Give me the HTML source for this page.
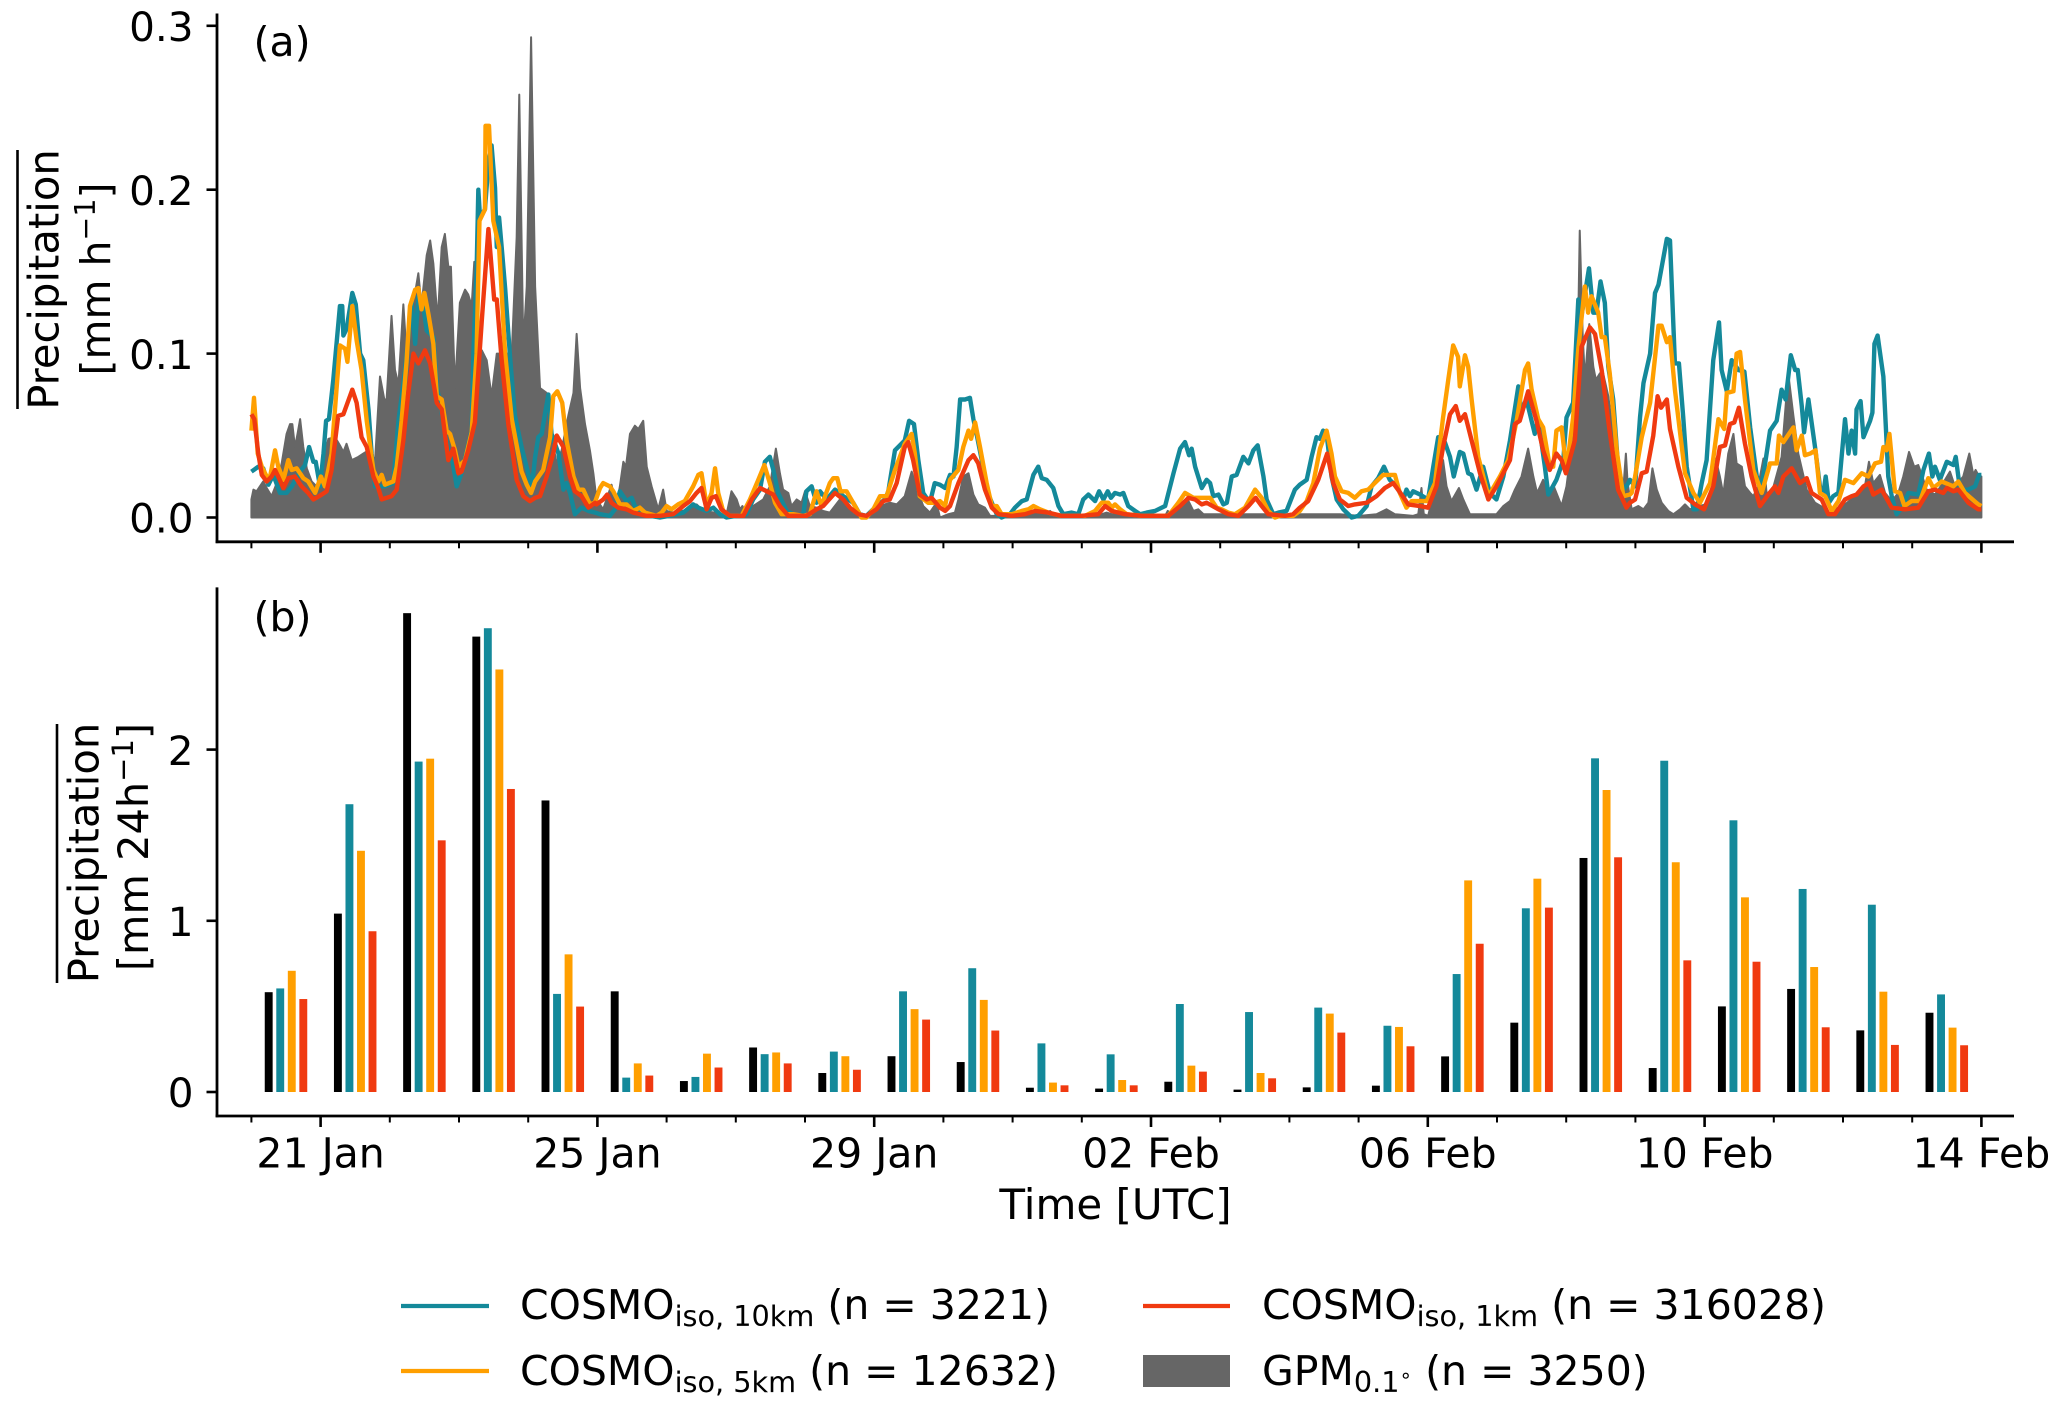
<!DOCTYPE html>
<html lang="en">
<head>
<meta charset="utf-8">
<title>Precipitation time series</title>
<style>
html,body{margin:0;padding:0;background:#fff;}
svg{display:block;}
text{font-family:"DejaVu Sans","Liberation Sans",sans-serif;fill:#000;}
</style>
</head>
<body>
<svg id="chart" xmlns="http://www.w3.org/2000/svg" width="2067" height="1406" viewBox="0 0 2067 1406">
  <g id="panelA"></g>
  <g id="panelB"></g>

  <text x="253.5" y="56" font-size="41">(a)</text>
  <text x="253.5" y="631" font-size="41">(b)</text>

  <g>
    <line x1="17.5" y1="150" x2="17.5" y2="409" stroke="#000" stroke-width="2.6"/>
    <text transform="translate(58.3,279.5) rotate(-90)" text-anchor="middle" font-size="41.7">Precipitation</text>
    <text transform="translate(110,279) rotate(-90)" text-anchor="middle" font-size="41">[mm h<tspan font-size="28.5" dy="-15">−1</tspan><tspan dy="15">]</tspan></text>
  </g>
  <g>
    <line x1="57" y1="724" x2="57" y2="983" stroke="#000" stroke-width="2.6"/>
    <text transform="translate(98.5,853) rotate(-90)" text-anchor="middle" font-size="41.7">Precipitation</text>
    <text transform="translate(148,847) rotate(-90)" text-anchor="middle" font-size="41.5">[mm 24h<tspan font-size="29" dy="-15">−1</tspan><tspan dy="15">]</tspan></text>
  </g>

  <text x="1115.5" y="1219" text-anchor="middle" font-size="42">Time [UTC]</text>

  <g>
    <g>
      <line x1="401" y1="1306" x2="489" y2="1306" stroke="#14899a" stroke-width="4.2"/>
      <text x="520" y="1319" font-size="41">COSMO<tspan font-size="28.7" dy="7">iso, 10km</tspan><tspan dy="-7"> (n = 3221)</tspan></text>
    </g>
    <g>
      <line x1="401" y1="1371" x2="489" y2="1371" stroke="#ff9f00" stroke-width="4.2"/>
      <text x="520" y="1385" font-size="41">COSMO<tspan font-size="28.7" dy="7">iso, 5km</tspan><tspan dy="-7"> (n = 12632)</tspan></text>
    </g>
    <g>
      <line x1="1143" y1="1306" x2="1230" y2="1306" stroke="#f03a10" stroke-width="4.2"/>
      <text x="1262" y="1319" font-size="41">COSMO<tspan font-size="28.7" dy="7">iso, 1km</tspan><tspan dy="-7"> (n = 316028)</tspan></text>
    </g>
    <g>
      <rect x="1143" y="1355" width="87" height="32" fill="#666666"/>
      <text x="1262" y="1385" font-size="41">GPM<tspan font-size="28.7" dy="7">0.1</tspan><tspan font-size="20" dy="-10">∘</tspan><tspan dy="3"> (n = 3250)</tspan></text>
    </g>
  </g>
</svg>

<script>
// Panel (a): hourly-mean precipitation, [hours since 20 Jan 00 UTC, mm/h]
const gpmSeries = [[0,.011],[.7,.017],[1.8,.016],[4.1,.022],[5.3,.018],[7,.013],[8.8,.021],[10.5,.033],[12.2,.051],[13.4,.057],[14.2,.057],[15.1,.043],[16,.051],[16.9,.06],[18,.043],[19.2,.03],[20.9,.022],[22.6,.019],[24.4,.027],[25.5,.039],[26.7,.048],[29,.049],[30.7,.044],[31.9,.04],[33,.045],[34.8,.035],[37.1,.037],[38.8,.039],[40.6,.041],[42.9,.035],[44.6,.086],[46.1,.072],[46.9,.072],[48.6,.123],[49.8,.09],[51,.081],[52.7,.13],[53.8,.1],[55,.106],[56.2,.131],[57.9,.149],[59,.129],[60.8,.16],[62,.169],[63.1,.155],[64.6,.12],[66,.165],[67.1,.173],[68.3,.153],[69.2,.153],[70.6,.079],[72.3,.131],[74.1,.139],[75.2,.136],[76.4,.129],[77.3,.156],[78.7,.1],[79.9,.102],[81.6,.096],[83.3,.074],[85.1,.1],[87.4,.1],[90.3,.1],[92,.171],[92.9,.258],[94.3,.104],[95.5,.141],[97,.293],[98.4,.141],[100.1,.079],[102.4,.076],[104.1,.049],[105.9,.033],[107.6,.041],[109.9,.062],[111.7,.076],[112.8,.112],[114,.079],[115.7,.057],[117.4,.041],[118.6,.027],[119.7,.011],[122,.005],[124.9,.02],[126.6,.007],[127.8,.019],[129,.034],[129.9,.031],[131.3,.051],[133,.056],[134.2,.054],[135.9,.059],[137.1,.031],[138.8,.019],[141.1,.005],[142.8,.017],[144,.004],[146.3,.003],[152.1,.005],[154.4,.008],[156.7,.004],[164.8,.002],[166.5,.016],[168.3,.011],[169.4,.005],[170.3,.007],[171.7,.002],[174,.007],[177.5,.011],[179.8,.019],[181.9,.042],[183.3,.027],[184.4,.017],[186.2,.015],[187.3,.007],[189.1,.011],[190.8,.009],[192,.016],[193.7,.007],[196,.006],[198.3,.004],[200.6,.003],[204.1,.011],[206.4,.007],[208.7,.002],[213.3,.001],[218,.007],[221.4,.009],[223.8,.008],[226.6,.013],[229,.028],[231.3,.015],[233,.007],[235.3,.003],[237.6,.009],[238.8,0],[241.7,.002],[244,.003],[245.2,.011],[246.9,.025],[248.7,.027],[250.4,.014],[252.1,.008],[254.4,.006],[256.2,.001],[260.2,.001],[270.6,.002],[272.4,.003],[275.2,.002],[277,.004],[278.7,.001],[294.9,.002],[296.6,.003],[298.4,.002],[316.9,.001],[317.8,.004],[319.2,.002],[321.5,.006],[325,.01],[326.7,.004],[328.4,.005],[330.2,.002],[368.3,.002],[377.5,.002],[384.4,.001],[390.2,.002],[393.7,.005],[396.6,.002],[402.9,.001],[404.7,.002],[405.8,.018],[406.6,.002],[408.1,.001],[411,.021],[413.3,.035],[414.5,.019],[416.2,.01],[418.8,.018],[420.3,.011],[422.6,.002],[431.8,.002],[434.2,.007],[436.5,.01],[438.2,.017],[440.5,.025],[442.8,.042],[444.6,.025],[445.9,.015],[448,.023],[450.1,.014],[451.7,.019],[454.4,.007],[456.1,.019],[458.4,.051],[460.2,.123],[460.7,.175],[461.7,.112],[462.5,.084],[464,.118],[465.4,.092],[466.3,.084],[467.7,.088],[468.8,.088],[470.6,.074],[472.3,.051],[474,.031],[475.8,.017],[476.7,.039],[477.3,.021],[478.7,.005],[481,.007],[482.8,.005],[484.5,.009],[485.9,.03],[487.4,.017],[489.1,.009],[491.4,.004],[493.2,.002],[495.5,.005],[497.2,.008],[498.9,.005],[500.7,.006],[504.1,.008],[507,.017],[507.8,.036],[509.3,.025],[510.5,.014],[512.2,.039],[514,.051],[515.1,.033],[516.9,.031],[518,.019],[519.8,.015],[520.9,.013],[522.6,.019],[524.4,.036],[525.5,.015],[527.3,.015],[530.7,.037],[533,.088],[534.8,.062],[536.5,.039],[539.4,.017],[542.3,.009],[545.2,.006],[546.9,.002],[549.2,.005],[552.7,.008],[556.2,.013],[559.6,.019],[561,.034],[562.5,.021],[564.8,.026],[566.6,.015],[568.9,.01],[571.2,.015],[572.9,.025],[574.9,.04],[576.7,.031],[578.1,.032],[579.9,.023],[581,.017],[583.9,.014],[587.4,.023],[589.1,.028],[590.8,.019],[593.7,.025],[595.8,.039],[597.2,.026],[598,.029],[599.2,.025],[600,.025]];

const cosmo10kmSeries = [[0,.028],[2.4,.031],[4.1,.03],[5.9,.02],[7.6,.026],[9.9,.015],[12.2,.015],[14,.019],[16.9,.028],[18.6,.032],[20,.043],[21.5,.034],[22.3,.034],[23.8,.019],[25,.039],[25.9,.059],[26.9,.06],[28.4,.084],[30.7,.129],[31.5,.129],[31.9,.111],[33,.115],[35,.137],[36.2,.13],[37.7,.1],[38.8,.096],[40.6,.066],[41.7,.039],[42.9,.019],[44.6,.019],[46.3,.019],[49.2,.021],[51,.059],[53.3,.09],[55.6,.131],[56.8,.106],[57.9,.135],[59.6,.129],[60.8,.114],[63.1,.11],[64.3,.08],[66,.064],[68.3,.04],[69.5,.037],[71.2,.019],[72.9,.027],[76.4,.053],[77,.1],[78.1,.15],[78.7,.2],[79.3,.183],[81,.188],[82.2,.216],[83.3,.227],[84.5,.201],[85.1,.165],[85.9,.183],[86.8,.165],[88,.14],[89.7,.098],[91.4,.062],[93.7,.043],[96,.027],[97.2,.017],[98.4,.037],[99.5,.049],[100.7,.051],[101.8,.063],[103,.075],[104.1,.051],[105.3,.045],[106.5,.039],[108.2,.017],[109.3,.021],[110.5,.015],[112.2,.002],[114.5,.006],[116.9,.004],[119.2,.003],[120.9,.002],[124.3,.001],[126.1,.005],[127.8,.016],[130.1,.01],[131.9,.012],[133,.007],[135.9,.003],[138.2,.001],[141.7,0],[145.1,.001],[149.8,.003],[153.2,.008],[155,.006],[157.9,.004],[160.2,.006],[162.5,.002],[164.8,0],[168.3,.001],[171.7,.002],[174,.011],[176.4,.017],[178.1,.034],[179.8,.037],[181,.029],[182.7,.015],[185.6,.004],[189.1,.001],[191.4,.002],[192.5,.016],[194.3,.019],[196,.009],[197.2,.016],[199.5,.011],[202.4,.017],[205.3,.013],[208.7,.009],[211,.002],[213.3,.001],[216.8,.007],[219.7,.011],[220.9,.016],[223.2,.041],[226.6,.047],[228.1,.059],[229.8,.057],[231.3,.035],[233,.015],[235.3,.009],[237,.021],[238.8,.02],[240.6,.018],[242.3,.026],[243.5,.025],[244.6,.043],[245.8,.072],[247.5,.072],[249.2,.073],[250.4,.06],[251.5,.051],[253.3,.035],[255,.017],[256.8,.009],[258.5,.002],[260.2,0],[263.1,.002],[264.8,.006],[267.2,.01],[268.9,.011],[271.2,.026],[272.9,.031],[274.1,.024],[275.8,.023],[278.1,.018],[279.9,.007],[281.6,.002],[284.5,.003],[286.8,.002],[288.5,.011],[290.3,.014],[292.6,.01],[294,.016],[295.5,.011],[297,.016],[298.1,.012],[299.5,.015],[301.3,.014],[302.4,.015],[304.1,.007],[306.5,.004],[308.2,.002],[310.5,.003],[313.4,.004],[316.9,.007],[319.8,.027],[322.1,.042],[323.8,.046],[325.2,.038],[326.1,.042],[327.3,.031],[329.6,.018],[331.3,.023],[332.5,.021],[333.6,.013],[335.4,.014],[337.1,.008],[338.3,.009],[340,.025],[341.7,.026],[344,.037],[345.8,.033],[347.5,.041],[349,.044],[351,.025],[352.1,.011],[354.4,.002],[356.2,.003],[359,.004],[361.9,.017],[363.6,.02],[366,.023],[367.7,.037],[369.4,.049],[370.6,.048],[371.7,.053],[372.9,.051],[374.6,.025],[376.4,.011],[378.7,.005],[381.6,0],[383.9,.001],[386.8,.007],[388.5,.019],[390.8,.024],[392.8,.031],[394.8,.023],[397.2,.019],[399.5,.011],[400.6,.017],[401.8,.013],[402.9,.016],[405.3,.014],[408.1,.011],[409.9,.031],[411.6,.049],[413.9,.046],[415.7,.037],[417,.025],[419.1,.04],[420.3,.039],[422,.027],[423.2,.026],[424.9,.017],[427.2,.031],[429.5,.015],[431.8,.011],[434.2,.025],[436.5,.047],[439.4,.08],[440.5,.064],[442.2,.072],[445.1,.051],[446.3,.06],[448.6,.031],[449.8,.014],[452.6,.023],[455,.035],[456.1,.061],[458.4,.07],[460.2,.133],[461.3,.123],[463.9,.152],[465.4,.125],[466.5,.125],[467.9,.144],[469.4,.131],[470.6,.092],[472.3,.072],[474,.031],[475.8,.017],[476.9,.019],[478.1,.023],[479.9,.019],[481.6,.061],[482.8,.082],[485.1,.1],[486.8,.137],[488,.142],[490.9,.17],[492,.169],[493.7,.094],[495.1,.094],[496.6,.061],[497.8,.031],[500.1,.005],[501.3,.005],[503,.021],[504.7,.035],[507,.096],[509,.119],[509.9,.09],[511.7,.077],[513.4,.096],[515.7,.09],[517.8,.089],[519.8,.055],[522.1,.025],[523.8,.019],[526.7,.053],[529,.059],[530.7,.078],[532.1,.072],[533.9,.099],[535.4,.09],[536.3,.09],[537.7,.068],[538.5,.052],[540,.072],[542.3,.043],[544,.019],[545.2,.015],[546,.025],[547.1,.009],[548.6,.013],[550.4,.015],[552.7,.06],[553.9,.039],[555,.053],[556.2,.039],[556.7,.066],[558.1,.071],[559.1,.049],[561.4,.059],[562.2,.064],[562.9,.106],[564,.111],[566,.086],[567.7,.025],[568.9,.013],[570.6,.002],[572.4,.006],[574.7,.015],[578.1,.014],[579.9,.029],[581.8,.039],[583,.025],[583.9,.031],[585.6,.023],[588,.034],[590.3,.032],[591.1,.037],[592.6,.017],[595.5,.017],[597.8,.019],[599.2,.026],[600,.026]];

const cosmo5kmSeries = [[0,.053],[.9,.073],[2.2,.039],[3.6,.031],[5.3,.025],[6.5,.025],[8.2,.041],[9.3,.031],[11.1,.023],[12.8,.035],[14,.029],[15.7,.03],[18,.024],[19.7,.022],[22.1,.015],[24.1,.025],[25.5,.019],[27.8,.039],[29.6,.08],[30.7,.105],[32.5,.103],[33.3,.095],[35,.129],[36.5,.108],[38.2,.09],[40,.059],[42.3,.029],[44,.022],[45.2,.026],[46.3,.02],[49.2,.022],[50.4,.031],[52.1,.059],[53.8,.095],[55,.129],[56.8,.139],[57.9,.14],[59,.127],[60,.137],[61.4,.124],[63.1,.106],[64.3,.074],[66,.072],[67.7,.053],[68.9,.051],[70.6,.041],[71.8,.031],[74.1,.035],[76.4,.052],[78.1,.1],[79.1,.181],[81,.188],[81.2,.239],[82.4,.239],[83.9,.181],[85.9,.165],[88,.1],[90.3,.06],[93.7,.028],[95.5,.02],[97,.015],[98.4,.022],[101.2,.029],[103.6,.049],[104.7,.074],[106.1,.077],[107.8,.07],[109.3,.047],[111.7,.025],[113.4,.017],[115.1,.017],[117.4,.008],[119.1,.009],[120.9,.018],[122,.021],[124.3,.019],[125.5,.016],[127.8,.008],[130.1,.008],[132.4,.004],[134.7,.006],[136.5,.003],[140.5,.001],[142.3,.003],[144,.007],[145.7,.005],[148,.008],[150.3,.01],[153.2,.019],[155,.026],[156.1,.027],[157.9,.007],[159.6,.015],[160.8,.03],[161.9,.015],[163.6,.004],[166,.001],[170,.001],[172.9,.011],[175.8,.023],[177.9,.032],[179.8,.021],[181.6,.009],[183.9,.002],[187.9,.002],[191.4,.001],[193.7,.002],[196,.016],[197.7,.007],[200.6,.021],[201.8,.024],[203.2,.024],[204.3,.016],[206.4,.016],[208.7,.009],[211.6,0],[213.3,0],[215.7,.005],[218,.013],[220.3,.013],[223.2,.029],[226.6,.045],[229,.051],[230.1,.039],[231.8,.013],[234.7,.009],[237,.009],[238.8,.01],[240.6,.007],[242.3,.023],[245.2,.029],[246.9,.043],[248.7,.053],[249.6,.048],[251,.058],[252.7,.043],[255,.021],[256.8,.007],[258.5,.007],[260.2,.002],[263.7,.002],[267.2,.004],[269.5,.005],[271.2,.007],[273.5,.005],[276.4,.003],[281,.001],[289.1,.001],[292.6,.004],[294.9,.009],[297.2,.009],[298.4,.006],[299.5,.008],[301.3,.005],[303.6,.002],[308.8,.001],[318,.001],[321.5,.009],[323.8,.015],[326.7,.012],[332.5,.012],[334.8,.006],[336.5,.005],[338.8,.003],[341.1,.002],[344.6,.006],[348.1,.017],[350.4,.012],[352.7,.004],[355,0],[356.7,.001],[361.3,.001],[363.6,.004],[366,.01],[368.3,.021],[370.6,.042],[372.9,.053],[374.6,.039],[375.8,.025],[378.1,.016],[380.4,.015],[382.7,.012],[385,.016],[387.3,.017],[389.6,.021],[392.5,.026],[396.6,.026],[398.3,.015],[400.6,.006],[402.4,.01],[407.6,.01],[410.5,.021],[413.3,.061],[415.1,.084],[416.8,.105],[418.5,.098],[419.1,.08],[420.9,.099],[422,.092],[423.2,.072],[425.5,.037],[429,.013],[433,.025],[435.9,.035],[438.8,.059],[441.7,.09],[442.8,.094],[444,.078],[446.3,.06],[448,.055],[450.3,.031],[451.5,.031],[452.6,.053],[454.4,.055],[456.1,.029],[458.4,.061],[460.2,.103],[462.5,.141],[463.6,.125],[464.8,.135],[467.1,.125],[468.3,.11],[469.4,.11],[471.1,.088],[473.5,.041],[475.8,.013],[478.1,.014],[478.7,.015],[479.9,.025],[482.2,.049],[485.1,.07],[488,.117],[489.1,.117],[490.9,.107],[492,.11],[493.7,.078],[497.2,.027],[500.1,.015],[502.4,.009],[505.9,.021],[508.8,.06],[510.8,.054],[511.7,.076],[514,.077],[515.1,.1],[516.3,.101],[518,.072],[520.9,.029],[523.8,.015],[526.7,.033],[529,.033],[529.8,.05],[531.3,.046],[534.8,.055],[535.9,.041],[537.7,.05],[538.8,.038],[540.6,.039],[542.5,.041],[544,.015],[545.8,.013],[548.1,.004],[550.4,.01],[552.7,.023],[555.6,.021],[558.5,.027],[560.8,.025],[563.1,.033],[565.2,.034],[566,.043],[567.1,.041],[568.1,.051],[570,.016],[571.8,.015],[573.3,.007],[575.8,.01],[578.7,.01],[581.6,.024],[583.3,.018],[586.2,.022],[590.3,.019],[592,.022],[594.3,.015],[598.9,.008],[600,.007]];

const cosmo1kmSeries = [[0,.063],[1,.06],[2.4,.039],[3.6,.026],[5.3,.022],[7,.025],[8.2,.029],[9.3,.025],[11.1,.018],[12.8,.024],[15.1,.025],[17.4,.019],[19.7,.015],[21.5,.011],[24.4,.014],[26.1,.016],[27.8,.029],[30.1,.062],[31.9,.063],[35,.078],[36.5,.07],[38.2,.049],[40,.043],[42.3,.025],[44,.018],[45.2,.011],[48.6,.013],[50.4,.017],[52.7,.047],[54.4,.076],[56.2,.1],[57.9,.094],[60.2,.102],[62,.094],[64.3,.07],[66,.066],[68.3,.035],[70,.042],[71.8,.027],[72.9,.028],[75.2,.041],[77.5,.058],[79.9,.12],[82.2,.176],[84.2,.133],[85.1,.133],[86.8,.096],[89.1,.057],[92,.023],[94.3,.013],[96.6,.01],[98.4,.012],[100.1,.013],[102.4,.025],[104.7,.039],[105.9,.05],[108.2,.043],[110.5,.025],[112.2,.016],[114.5,.013],[116.9,.006],[119.2,.009],[119.7,.008],[122,.011],[123.4,.014],[124.9,.009],[127.2,.006],[130.1,.005],[132.4,.003],[137,.001],[141.7,.001],[146.3,.002],[149.8,.007],[152.1,.01],[154.4,.015],[156.1,.018],[157.9,.005],[159.6,.012],[161.1,.013],[163,.005],[166,.001],[170.6,.001],[173.5,.011],[176.4,.018],[178.7,.016],[181,.014],[183.3,.007],[186.2,.001],[192.5,.001],[196,.005],[198.3,.007],[202.4,.015],[205.3,.011],[207.6,.006],[210.5,.002],[213.3,.001],[216.8,.005],[219.1,.01],[221.4,.011],[223.8,.021],[226.6,.043],[227.8,.046],[229.5,.035],[231.8,.014],[234.2,.011],[235.9,.012],[238.8,.006],[240.6,.004],[242.3,.007],[245.2,.021],[248.7,.035],[250.4,.038],[252.1,.033],[254.4,.017],[256.8,.006],[259.1,.002],[263.7,.001],[268.3,.002],[271.8,.004],[276.4,.003],[281,.001],[288,.001],[293.7,.002],[296.1,.007],[298.4,.004],[303,.002],[308.8,.001],[318,.001],[322.1,.007],[325,.012],[327.3,.011],[329.6,.008],[331.3,.009],[335.4,.005],[338.8,.002],[342.3,.001],[345.8,.007],[348.3,.012],[350.4,.007],[352.7,.002],[358.5,.001],[361.3,.002],[363.6,.006],[366.5,.01],[370,.023],[373.1,.039],[375.2,.021],[377.5,.011],[380.4,.007],[382.7,.008],[386.8,.009],[390.2,.013],[393.1,.018],[396,.021],[398.9,.014],[401.2,.008],[405.3,.007],[408.1,.006],[411,.019],[413.3,.043],[415.7,.063],[417.7,.068],[419.1,.059],[420.9,.063],[423.2,.047],[426.1,.027],[429,.011],[431.8,.019],[436.5,.035],[438.2,.057],[439.9,.059],[442.8,.077],[445.7,.059],[448,.041],[450.3,.029],[452.6,.039],[454.4,.035],[455.9,.027],[459,.047],[461.3,.104],[464.2,.116],[466,.112],[468.3,.09],[471.1,.052],[474,.017],[476.9,.006],[478.1,.009],[479.9,.011],[482.2,.027],[483.9,.028],[486.2,.05],[487.7,.074],[488.9,.067],[490.9,.072],[492,.054],[494.9,.031],[497.8,.012],[500.7,.008],[503.8,.005],[507,.019],[509.3,.043],[511.1,.044],[512.8,.057],[514.3,.058],[515.9,.067],[518,.045],[520.3,.025],[523.2,.007],[526.1,.014],[528.4,.019],[529.6,.015],[531.3,.025],[534.2,.03],[537.1,.021],[539.4,.024],[541.1,.015],[544.6,.011],[546.9,.002],[549.2,.002],[552.7,.011],[555,.013],[556.7,.014],[559.1,.019],[561,.021],[562.5,.014],[565.4,.017],[568.9,.006],[573.5,.005],[578.1,.006],[581.6,.016],[583.9,.017],[586.8,.015],[588,.018],[590.3,.016],[592,.017],[595.5,.009],[598.9,.005],[600,.005]];

// Panel (b): daily totals, one value per day starting 20 Jan
const dailyGpm = [.583,1.042,2.797,2.66,1.703,.588,.064,.26,.111,.209,.175,.025,.02,.06,.014,.027,.037,.208,.405,1.367,.14,.5,.602,.36,.463];
const daily10km = [.605,1.681,1.93,2.709,.573,.084,.088,.221,.236,.588,.723,.284,.22,.514,.467,.493,.387,.689,1.073,1.949,1.935,1.587,1.186,1.094,.57];
const daily5km = [.708,1.409,1.947,2.468,.804,.167,.224,.231,.209,.484,.538,.055,.07,.154,.111,.458,.38,1.236,1.246,1.764,1.342,1.137,.73,.586,.376];
const daily1km = [.543,.939,1.47,1.77,.499,.096,.143,.167,.13,.423,.359,.039,.039,.119,.08,.347,.267,.866,1.077,1.371,.769,.761,.378,.275,.273];

// Axis tick values and labels
const yTicksA = [0, .1, .2, .3];
const yTickLabelsA = ['0.0', '0.1', '0.2', '0.3'];
const yTicksB = [0, 1, 2];
const yTickLabelsB = ['0', '1', '2'];
const xMinorDays = [0,1,2,3,4,5,6,7,8,9,10,11,12,13,14,15,16,17,18,19,20,21,22,23,24,25];
const xMajorDays = [1,5,9,13,17,21,25];
const xTickLabels = ['21 Jan','25 Jan','29 Jan','02 Feb','06 Feb','10 Feb','14 Feb'];

const NS = 'http://www.w3.org/2000/svg';
function xDay(d) { return 251.4 + 69.2 * d; }
function xHour(h) { return xDay(h / 24); }
function yA(v) { return 517.5 - 1639 * v; }
function yB(v) { return 1092 - 171.2 * v; }
function make(tag, parent, attrs) {
  const e = document.createElementNS(NS, tag);
  for (const k in attrs) e.setAttribute(k, attrs[k]);
  parent.appendChild(e);
  return e;
}
function drawAxes(parent, top, bottom, yFn, ticks, labels, showX, prefix) {
  const ax = make('g', parent, {});
  
  
  const spineL = make('line', ax, {x1: 217, y1: top, x2: 217, y2: bottom + 1.3, stroke: '#000', 'stroke-width': 2.8});
  
  
  const spineB = make('line', ax, {x1: 215.6, y1: bottom, x2: 2014, y2: bottom, stroke: '#000', 'stroke-width': 2.8});
  
  
  ticks.forEach(function (t, i) {
    const y = yFn(t);
    const tick = make('line', ax, {x1: 206.5, y1: y, x2: 217, y2: y, stroke: '#000', 'stroke-width': 2.6});
    
    
    const lab = make('text', ax, {x: 193.5, y: y + 15.2, 'text-anchor': 'end', 'font-size': 40.5});
    
    
    lab.textContent = labels[i];
  });
  xMinorDays.forEach(function (d) {
    const major = xMajorDays.indexOf(d) >= 0;
    const x = xDay(d);
    const tick = make('line', ax, {x1: x, y1: bottom, x2: x, y2: bottom + (major ? 11 : 6.5), stroke: '#000', 'stroke-width': major ? 2.6 : 2});
    
    
  });
  if (showX) {
    xMajorDays.forEach(function (d, i) {
      const lab = make('text', ax, {x: xDay(d), y: 1167.5, 'text-anchor': 'middle', 'font-size': 41});
      
      
      lab.textContent = xTickLabels[i];
    });
  }
}
function linePath(series) {
  return series.map(function (p, i) {
    return (i ? 'L' : 'M') + xHour(p[0]).toFixed(2) + ' ' + yA(p[1]).toFixed(2);
  }).join('');
}

const panelA = document.getElementById('panelA');
const panelB = document.getElementById('panelB');

const gpmArea = make('path', panelA, {
  d: linePath(gpmSeries) + 'L' + xHour(600).toFixed(2) + ' ' + yA(0) + 'L' + xHour(0).toFixed(2) + ' ' + yA(0) + 'Z',
  fill: '#666666', stroke: '#666666', 'stroke-width': 2, 'stroke-linejoin': 'round'
});



const line10 = make('path', panelA, {d: linePath(cosmo10kmSeries), fill: 'none', stroke: '#14899a', 'stroke-width': 4.4, 'stroke-linejoin': 'round'});



const line5 = make('path', panelA, {d: linePath(cosmo5kmSeries), fill: 'none', stroke: '#ff9f00', 'stroke-width': 4.4, 'stroke-linejoin': 'round'});



const line1 = make('path', panelA, {d: linePath(cosmo1kmSeries), fill: 'none', stroke: '#f03a10', 'stroke-width': 4.4, 'stroke-linejoin': 'round'});



drawAxes(panelA, 13.5, 541.8, yA, yTicksA, yTickLabelsA, false, 'panel-a');

function drawBars(values, offsetDays, colour, name) {
  values.forEach(function (v, i) {
    const w = 7.9;
    const bar = make('rect', panelB, {
      x: xDay(i + offsetDays) - w / 2,
      y: yB(v),
      width: w,
      height: yB(0) - yB(v),
      fill: colour
    });
    
    
  });
}
drawBars(dailyGpm, .25, '#000000', 'bar-gpm');
drawBars(daily10km, .4167, '#14899a', 'bar-cosmo-10km');
drawBars(daily5km, .5833, '#ff9f00', 'bar-cosmo-5km');
drawBars(daily1km, .75, '#f03a10', 'bar-cosmo-1km');

drawAxes(panelB, 587.4, 1116, yB, yTicksB, yTickLabelsB, true, 'panel-b');
</script>
</body>
</html>
